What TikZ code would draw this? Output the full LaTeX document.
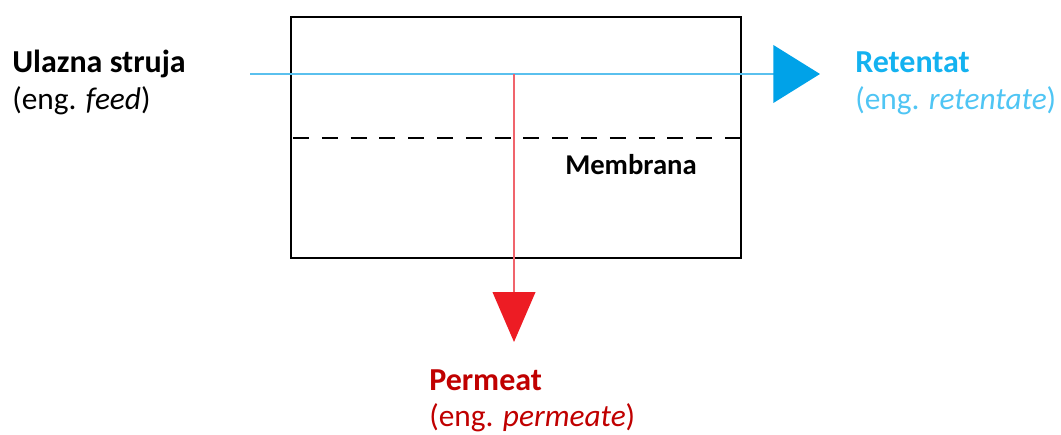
\documentclass[tikz,border=0pt]{standalone}
\usepackage{fontspec}
\setmainfont{Carlito}
\usetikzlibrary{arrows.meta}
\definecolor{feedblue}{RGB}{0,162,232}
\definecolor{lineblue}{RGB}{90,192,238}
\definecolor{textblue}{RGB}{20,178,240}
\definecolor{permred}{RGB}{237,28,36}
\definecolor{linered}{RGB}{240,100,108}
\definecolor{textred}{RGB}{192,0,0}
\tikzset{
	label title/.style={anchor=base west, inner sep=0pt, font=\fontsize{24}{28}\selectfont\bfseries},
	label eng/.style={anchor=base west, inner sep=0pt, font=\fontsize{23.5}{28}\selectfont},
}
\begin{document}
\begin{tikzpicture}[x=0.75pt, y=-0.75pt]
		\useasboundingbox (0,0) rectangle (1061,435);

		\draw[line width=1.1pt] (291,17) rectangle (741,258);
		\draw[line width=1.1pt, dash pattern=on 12pt off 9.6pt] (293,138) -- (741,138);
		\node[anchor=base west, inner sep=0pt, font=\fontsize{21.5}{24}\selectfont\bfseries] (membrana) at (565,175) {Membrana};

		\coordinate (in) at (250,74);
		\coordinate (out) at (820,74);
		\coordinate (tap) at (514,74);
		\coordinate (perm) at (514,342);

		\draw[lineblue, line width=2.2pt, -{Triangle[length=35pt, width=43pt, color=feedblue]}] (in) -- (out);
		\draw[linered, line width=1.4pt, -{Triangle[length=37.5pt, width=32pt, color=permred]}] (tap) -- (perm);

		\node[label title] (feed) at (12,73) {Ulazna struja};
		\node[label eng] (feedeng) at (12,109) {(eng. \textit{feed})};

		\node[label title, textblue] (retentat) at (855,73) {Retentat};
		\node[label eng, textblue!75] (retentateng) at (855,109) {(eng. \textit{retentate})};

		\node[label title, textred] (permeat) at (429,390) {Permeat};
		\node[label eng, textred] (permeateng) at (429,426) {(eng. \textit{permeate})};
	\end{tikzpicture}
\end{document}
